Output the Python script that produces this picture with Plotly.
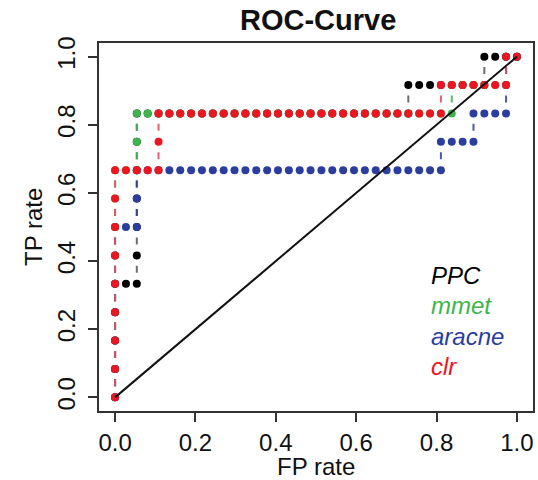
import plotly.graph_objects as go

# ---- data (counts of false positives / true positives along each ROC curve) ----
N_NEG = 37
N_POS = 12

methods = ["PPC", "mmet", "aracne", "clr"]

ppc_fp = [0, 0, 0, 0, 0, 1, 2, 2, 2, 2, 2, 2, 2,
          3, 4, 5, 6, 7, 8, 9, 10, 11, 12, 13, 14, 15, 16, 17, 18, 19, 20,
          21, 22, 23, 24, 25, 26, 27, 27, 28, 29, 30, 31, 32, 33, 34, 34, 35, 36, 37]
ppc_tp = [0, 1, 2, 3, 4, 4, 4, 5, 6, 7, 8, 9, 10,
          10, 10, 10, 10, 10, 10, 10, 10, 10, 10, 10, 10, 10, 10, 10, 10, 10, 10,
          10, 10, 10, 10, 10, 10, 10, 11, 11, 11, 11, 11, 11, 11, 11, 12, 12, 12, 12]

mmet_fp = [0, 0, 0, 0, 0, 0, 0, 0, 0, 1, 2, 2, 2,
           3, 4, 5, 6, 7, 8, 9, 10, 11, 12, 13, 14, 15, 16, 17, 18, 19, 20,
           21, 22, 23, 24, 25, 26, 27, 28, 29, 30, 31, 31, 32, 33, 34, 35, 36, 36, 37]
mmet_tp = [0, 1, 2, 3, 4, 5, 6, 7, 8, 8, 8, 9, 10,
           10, 10, 10, 10, 10, 10, 10, 10, 10, 10, 10, 10, 10, 10, 10, 10, 10, 10,
           10, 10, 10, 10, 10, 10, 10, 10, 10, 10, 10, 11, 11, 11, 11, 11, 11, 12, 12]

aracne_fp = [0, 0, 0, 0, 0, 0, 0, 1, 2, 2, 2,
             3, 4, 5, 6, 7, 8, 9, 10, 11, 12, 13, 14, 15, 16, 17, 18, 19, 20,
             21, 22, 23, 24, 25, 26, 27, 28, 29, 30, 30, 31, 32, 33, 33, 34, 35, 36, 36, 36, 37]
aracne_tp = [0, 1, 2, 3, 4, 5, 6, 6, 6, 7, 8,
             8, 8, 8, 8, 8, 8, 8, 8, 8, 8, 8, 8, 8, 8, 8, 8, 8, 8,
             8, 8, 8, 8, 8, 8, 8, 8, 8, 8, 9, 9, 9, 9, 10, 10, 10, 10, 11, 12, 12]

clr_fp = [0, 0, 0, 0, 0, 0, 0, 0, 0, 1, 2, 3, 4, 4, 4,
          5, 6, 7, 8, 9, 10, 11, 12, 13, 14, 15, 16, 17, 18, 19, 20,
          21, 22, 23, 24, 25, 26, 27, 28, 29, 30, 30, 31, 32, 33, 34, 35, 36, 36, 37]
clr_tp = [0, 1, 2, 3, 4, 5, 6, 7, 8, 8, 8, 8, 8, 9, 10,
          10, 10, 10, 10, 10, 10, 10, 10, 10, 10, 10, 10, 10, 10, 10, 10,
          10, 10, 10, 10, 10, 10, 10, 10, 10, 10, 11, 11, 11, 11, 11, 11, 11, 12, 12]

x_ticks = [0.0, 0.2, 0.4, 0.6, 0.8, 1.0]
y_ticks = [0.0, 0.2, 0.4, 0.6, 0.8, 1.0]
tick_text = ["0.0", "0.2", "0.4", "0.6", "0.8", "1.0"]

# ---- styles ----
dot_colors = {"PPC": "#000000", "mmet": "#3db54a", "aracne": "#2b3d9f", "clr": "#ec1520"}
dash_colors = {"PPC": "rgba(60,60,60,0.75)", "mmet": "rgba(61,181,74,0.85)",
               "aracne": "rgba(43,61,159,0.85)", "clr": "rgba(225,80,100,0.9)"}
FONT = "Liberation Sans, Arial, Helvetica, sans-serif"

curves = {
    "PPC": (ppc_fp, ppc_tp),
    "mmet": (mmet_fp, mmet_tp),
    "aracne": (aracne_fp, aracne_tp),
    "clr": (clr_fp, clr_tp),
}

fig = go.Figure()

for m in methods:
    fp, tp = curves[m]
    xs = [v / N_NEG for v in fp]
    ys = [v / N_POS for v in tp]
    # dashed connectors for vertical steps
    sx, sy = [], []
    for i in range(1, len(xs)):
        if fp[i] == fp[i - 1] and tp[i] != tp[i - 1]:
            sx += [xs[i - 1], xs[i], None]
            sy += [ys[i - 1], ys[i], None]
    fig.add_trace(go.Scatter(x=sx, y=sy, mode="lines",
                             line=dict(color=dash_colors[m], width=2, dash="0px,11px,7px,60px"),
                             hoverinfo="skip", showlegend=False))
    fig.add_trace(go.Scatter(x=xs, y=ys, mode="markers",
                             marker=dict(color=dot_colors[m], size=8, line=dict(width=0)),
                             name=m, showlegend=False))

# diagonal reference line
fig.add_trace(go.Scatter(x=[0, 1], y=[0, 1], mode="lines",
                         line=dict(color="#111111", width=2), hoverinfo="skip", showlegend=False))

axis_common = dict(range=[-0.04, 1.04], showgrid=False, zeroline=False, automargin=False,
                   showline=True, mirror=True, linecolor="#333333", linewidth=1.5,
                   ticks="outside", ticklen=9, tickwidth=1.5, tickcolor="#333333",
                   tickfont=dict(family=FONT, size=24, color="#111111"))

fig.update_xaxes(tickvals=x_ticks, ticktext=tick_text, **axis_common)
fig.update_yaxes(tickvals=y_ticks, ticktext=tick_text, tickangle=-90, ticklabelstandoff=4,
                 **axis_common)

annotations = [
    dict(text="<b>ROC-Curve</b>", xref="paper", yref="paper", x=0.505, y=(411 - 20) / 368,
         xanchor="center", yanchor="middle", showarrow=False,
         font=dict(family=FONT, size=29, color="#111111")),
    dict(text="FP rate", xref="paper", yref="paper", x=0.5, y=(411 - 466) / 368,
         xanchor="center", yanchor="middle", showarrow=False,
         font=dict(family=FONT, size=24, color="#111111")),
    dict(text="TP rate", xref="paper", yref="paper", x=(33 - 99) / 434, y=0.5, textangle=-90,
         xanchor="center", yanchor="middle", showarrow=False,
         font=dict(family=FONT, size=24, color="#111111")),
]
legend_y = [0.357, 0.269, 0.178, 0.091]
for m, ly in zip(methods, legend_y):
    annotations.append(dict(text="<i>" + m + "</i>", xref="x", yref="y", x=0.78, y=ly,
                            xanchor="left", yanchor="middle", showarrow=False,
                            font=dict(family=FONT, size=24, color=dot_colors[m])))

fig.update_layout(width=538, height=480, margin=dict(l=99, r=5, t=43, b=69),
                  paper_bgcolor="white", plot_bgcolor="white",
                  annotations=annotations, showlegend=False)

fig.write_html("out.html", config={"displayModeBar": False},
               post_script="document.body.style.margin='0';document.body.style.overflow='hidden';")
